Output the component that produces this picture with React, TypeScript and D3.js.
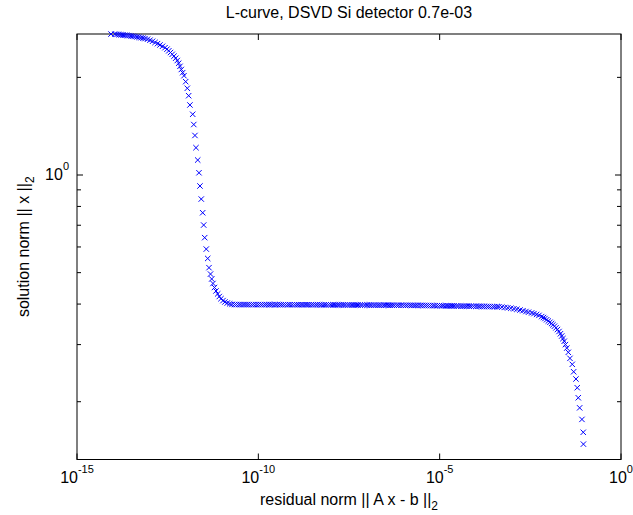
import React from 'react';
import * as d3 from 'd3';

// residual norm || A x - b ||_2
const residualNorm: number[] = [
  8.66e-15, 1.12e-14, 1.27e-14, 1.44e-14, 1.63e-14, 1.85e-14, 2.10e-14, 2.39e-14, 2.71e-14, 3.08e-14,
  3.50e-14, 3.97e-14, 4.51e-14, 5.12e-14, 5.82e-14, 6.61e-14, 7.50e-14, 8.79e-14, 1.03e-13, 1.21e-13,
  1.42e-13, 1.66e-13, 1.94e-13, 2.28e-13, 2.67e-13, 3.03e-13, 3.40e-13, 3.79e-13, 4.22e-13, 4.72e-13,
  5.26e-13, 5.82e-13, 6.37e-13, 6.92e-13, 7.52e-13, 8.20e-13, 8.91e-13, 9.93e-13, 1.10e-12, 1.20e-12,
  1.30e-12, 1.55e-12, 1.66e-12, 1.79e-12, 1.91e-12, 2.13e-12, 2.31e-12, 2.46e-12, 2.67e-12, 2.92e-12,
  3.11e-12, 3.32e-12, 3.67e-12, 4.02e-12, 4.36e-12, 4.80e-12, 5.18e-12, 5.62e-12, 6.18e-12, 6.79e-12,
  7.57e-12, 8.38e-12, 9.33e-12, 1.06e-11, 1.20e-11, 1.39e-11, 1.62e-11, 1.88e-11,
  2.2e-11, 2.5e-11, 2.9e-11, 3.3e-11, 3.8e-11, 4.3e-11, 4.9e-11, 5.6e-11, 6.5e-11, 7.4e-11, 8.6e-11,
  1.0e-10, 1.15e-10, 1.3e-10, 1.5e-10, 1.7e-10, 1.95e-10, 2.2e-10, 2.5e-10, 2.9e-10, 3.3e-10, 3.8e-10, 4.3e-10, 4.9e-10, 5.6e-10, 6.5e-10, 7.4e-10, 8.6e-10,
  1.0e-9, 1.15e-9, 1.3e-9, 1.5e-9, 1.7e-9, 1.95e-9, 2.2e-9, 2.5e-9, 2.9e-9, 3.3e-9, 3.8e-9, 4.3e-9, 4.9e-9, 5.6e-9, 6.5e-9, 7.4e-9, 8.6e-9,
  1.0e-8, 1.15e-8, 1.3e-8, 1.5e-8, 1.7e-8, 1.95e-8, 2.2e-8, 2.5e-8, 2.9e-8, 3.3e-8, 3.8e-8, 4.3e-8, 4.9e-8, 5.6e-8, 6.5e-8, 7.4e-8, 8.6e-8,
  1.0e-7, 1.15e-7, 1.3e-7, 1.5e-7, 1.7e-7, 1.95e-7, 2.2e-7, 2.5e-7, 2.9e-7, 3.3e-7, 3.8e-7, 4.3e-7, 4.9e-7, 5.6e-7, 6.5e-7, 7.4e-7, 8.6e-7,
  1.0e-6, 1.15e-6, 1.3e-6, 1.5e-6, 1.7e-6, 1.95e-6, 2.2e-6, 2.5e-6, 2.9e-6, 3.3e-6, 3.8e-6, 4.3e-6, 4.9e-6, 5.6e-6, 6.5e-6, 7.4e-6, 8.6e-6,
  1.0e-5, 1.15e-5, 1.3e-5, 1.5e-5, 1.7e-5, 1.95e-5, 2.2e-5, 2.5e-5, 2.9e-5, 3.3e-5, 3.8e-5, 4.3e-5, 4.9e-5, 5.6e-5, 6.5e-5, 7.4e-5, 8.6e-5,
  1.0e-4, 1.15e-4, 1.3e-4, 1.5e-4, 1.7e-4, 1.95e-4, 2.2e-4, 2.5e-4, 2.9e-4, 3.3e-4, 3.8e-4,
  4.3e-4, 5.2e-4, 6.3e-4, 7.6e-4, 9.2e-4, 1.12e-3, 1.35e-3, 1.64e-3, 1.98e-3, 2.39e-3,
  2.81e-3, 3.44e-3, 3.98e-3, 4.72e-3, 5.47e-3, 6.49e-3, 7.28e-3, 8.0e-3, 8.91e-3, 9.89e-3,
  1.10e-2, 1.22e-2, 1.33e-2, 1.46e-2, 1.61e-2, 1.77e-2, 1.95e-2, 2.14e-2, 2.32e-2, 2.51e-2,
  2.72e-2, 2.94e-2, 3.20e-2, 3.52e-2, 3.92e-2, 4.53e-2, 4.95e-2, 5.73e-2, 6.22e-2, 6.64e-2,
  7.24e-2, 8.38e-2, 9.1e-2, 9.2e-2,
];

// solution norm || x ||_2
const solutionNorm: number[] = [
  2.720, 2.717, 2.713, 2.709, 2.705, 2.702, 2.698, 2.694, 2.690, 2.684,
  2.679, 2.673, 2.665, 2.658, 2.650, 2.643, 2.634, 2.622, 2.604, 2.584,
  2.562, 2.541, 2.517, 2.494, 2.469, 2.443, 2.415, 2.386, 2.356, 2.325,
  2.291, 2.254, 2.211, 2.163, 2.115, 2.068, 2.024, 1.940, 1.851, 1.756,
  1.644, 1.539, 1.431, 1.324, 1.214, 1.112, 1.016, 0.925, 0.843, 0.765,
  0.701, 0.641, 0.591, 0.553, 0.518, 0.495, 0.478, 0.463, 0.450, 0.439,
  0.430, 0.422, 0.4155, 0.410, 0.406, 0.403, 0.4007, 0.399,
  0.3987, 0.3986, 0.3986, 0.3985, 0.3985, 0.3986, 0.3985, 0.3985, 0.3984, 0.3985, 0.3985,
  0.3985, 0.3985, 0.3984, 0.3985, 0.3985, 0.3984, 0.3984, 0.3985, 0.3984, 0.3984, 0.3984, 0.3983, 0.3984, 0.3984, 0.3983, 0.3983, 0.3983,
  0.3983, 0.3982, 0.3982, 0.3983, 0.3982, 0.3982, 0.3981, 0.3982, 0.3981, 0.3981, 0.3980, 0.3980, 0.3980, 0.3979, 0.3979, 0.3979, 0.3978,
  0.3978, 0.3977, 0.3977, 0.3977, 0.3976, 0.3976, 0.3976, 0.3975, 0.3975, 0.3975, 0.3974, 0.3974, 0.3974, 0.3973, 0.3973, 0.3973, 0.3972,
  0.3972, 0.3972, 0.3971, 0.3971, 0.3971, 0.3970, 0.3970, 0.3970, 0.3969, 0.3969, 0.3969, 0.3968, 0.3968, 0.3967, 0.3967, 0.3967, 0.3966,
  0.3966, 0.3965, 0.3965, 0.3964, 0.3964, 0.3963, 0.3963, 0.3962, 0.3962, 0.3961, 0.3960, 0.3960, 0.3959, 0.3958, 0.3957, 0.3956, 0.3955,
  0.3954, 0.3953, 0.3952, 0.3951, 0.3950, 0.3949, 0.3948, 0.3947, 0.3946, 0.3945, 0.3944, 0.3943, 0.3942, 0.3941, 0.3940, 0.3939, 0.3938,
  0.3937, 0.3936, 0.3935, 0.3934, 0.3933, 0.3932, 0.3931, 0.3930, 0.3929, 0.3928, 0.3927,
  0.3925, 0.3917, 0.3906, 0.3895, 0.3884, 0.3870, 0.3854, 0.3835, 0.3816, 0.3794,
  0.3775, 0.3757, 0.3738, 0.3716, 0.3691, 0.3660, 0.3636, 0.3610, 0.3579, 0.3546,
  0.3516, 0.3484, 0.3452, 0.3418, 0.3379, 0.3339, 0.3292, 0.3240, 0.3188, 0.3131,
  0.3072, 0.3000, 0.2927, 0.2840, 0.2721, 0.2608, 0.2474, 0.2350, 0.2209, 0.2057,
  0.1915, 0.1764, 0.161, 0.148,
];

const xTickValues = [1e-15, 1e-10, 1e-5, 1];
const xTickExponents = ['-15', '-10', '-5', '0'];
const yMajorTickValues = [1];
const yMajorTickExponents = ['0'];
const yMinorTickValues = [0.2, 0.3, 0.4, 0.5, 0.6, 0.7, 0.8, 0.9, 2];
const xDomain = [1e-15, 1];
const yDomain = [0.1327, 2.721];

const titleText = 'L-curve, DSVD Si detector 0.7e-03';
const xLabelText = 'residual norm || A x - b ||';
const yLabelText = 'solution norm || x ||';

export default function App() {
  const W = 633, H = 515;
  const left = 77, right = 621, top = 34, bottom = 459.5;
  const font = '"Liberation Sans", Arial, Helvetica, sans-serif';
  const x = d3.scaleLog().domain(xDomain).range([left, right]);
  const y = d3.scaleLog().domain(yDomain).range([bottom, top]);
  const ms = 2.7;
  const points = residualNorm.map((r, i) => [x(r), y(solutionNorm[i])]);
  const markerPath = points
    .map(([px, py]) => `M${px - ms},${py - ms}L${px + ms},${py + ms}M${px - ms},${py + ms}L${px + ms},${py - ms}`)
    .join('');
  const major = 6, minor = 4;

  return (
    <svg width={W} height={H} style={{ position: 'absolute', left: 0, top: 0, background: '#fff' }} fontFamily={font}>
      <rect x={0} y={0} width={W} height={H} fill="#fff" />
      {/* axes box */}
      <rect x={left} y={top} width={right - left} height={bottom - top} fill="none" stroke="#000" strokeWidth={1} />
      {/* x ticks */}
      {xTickValues.map((v, i) => (
        <g key={'xt' + i}>
          <line x1={x(v)} x2={x(v)} y1={bottom} y2={bottom - major} stroke="#000" />
          <line x1={x(v)} x2={x(v)} y1={top} y2={top + major} stroke="#000" />
          <text x={x(v)} y={483} textAnchor="middle" fontSize={16} fill="#000">
            <tspan>10</tspan>
            <tspan dy={-10} fontSize={11}>{xTickExponents[i]}</tspan>
          </text>
        </g>
      ))}
      {/* y ticks */}
      {yMajorTickValues.map((v, i) => (
        <g key={'yt' + i}>
          <line x1={left} x2={left + major} y1={y(v)} y2={y(v)} stroke="#000" />
          <line x1={right} x2={right - major} y1={y(v)} y2={y(v)} stroke="#000" />
          <text x={69} y={y(v) + 5} textAnchor="end" fontSize={16} fill="#000">
            <tspan>10</tspan>
            <tspan dy={-10} fontSize={11}>{yMajorTickExponents[i]}</tspan>
          </text>
        </g>
      ))}
      {yMinorTickValues.map((v, i) => (
        <g key={'ym' + i}>
          <line x1={left} x2={left + minor} y1={y(v)} y2={y(v)} stroke="#000" />
          <line x1={right} x2={right - minor} y1={y(v)} y2={y(v)} stroke="#000" />
        </g>
      ))}
      {/* markers */}
      <path d={markerPath} stroke="#0000ff" strokeWidth={1} fill="none" />
      {/* title */}
      <text x={(left + right) / 2} y={18} textAnchor="middle" fontSize={16} fill="#000">{titleText}</text>
      {/* x label */}
      <text x={(left + right) / 2} y={505} textAnchor="middle" fontSize={16} fill="#000">
        <tspan>{xLabelText}</tspan>
        <tspan dy={5} fontSize={12}>2</tspan>
      </text>
      {/* y label */}
      <text transform={`translate(29,${(top + bottom) / 2}) rotate(-90)`} textAnchor="middle" fontSize={16} fill="#000">
        <tspan>{yLabelText}</tspan>
        <tspan dy={5} fontSize={12}>2</tspan>
      </text>
    </svg>
  );
}
